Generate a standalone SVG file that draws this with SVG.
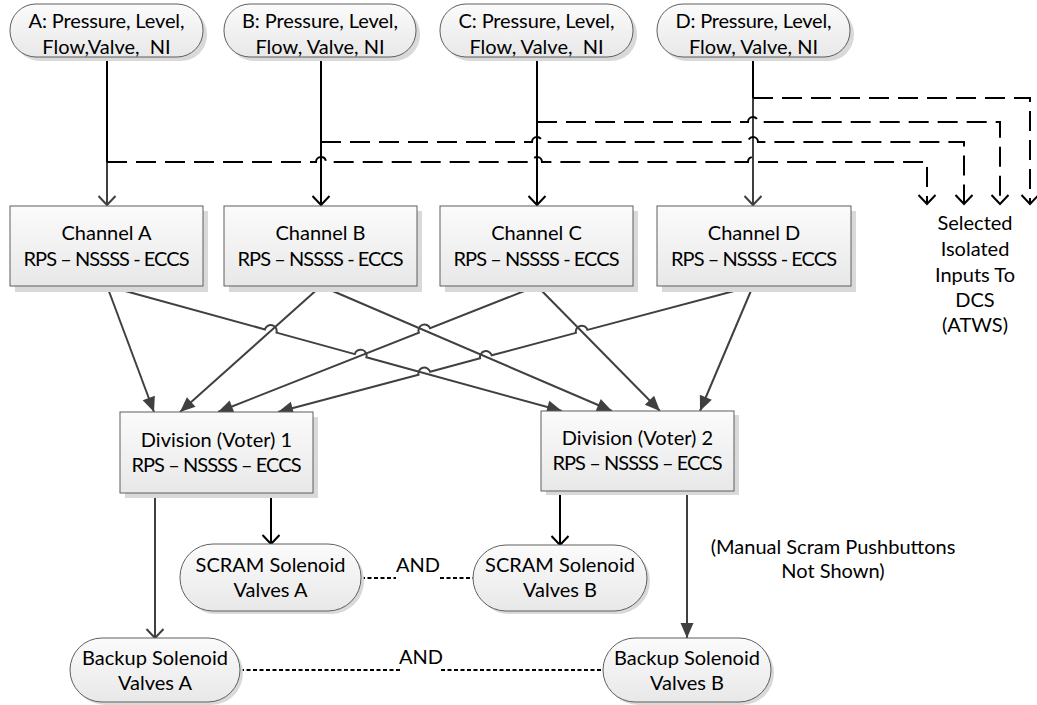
<svg xmlns="http://www.w3.org/2000/svg" width="1037" height="705" viewBox="0 0 1037 705">
<defs>
<linearGradient id="gBox" x1="0" y1="0" x2="0" y2="1"><stop offset="0" stop-color="#fbfbfb"/><stop offset="1" stop-color="#e8e8e8"/></linearGradient>
<marker id="vBlack" markerUnits="userSpaceOnUse" overflow="visible" orient="auto" refX="0" refY="0" markerWidth="20" markerHeight="20"><path d="M-9,-8.5 L0,0 L-9,8.5" fill="none" stroke="#000" stroke-width="2" stroke-dasharray="none"/></marker>
<marker id="vGray" markerUnits="userSpaceOnUse" overflow="visible" orient="auto" refX="0" refY="0" markerWidth="20" markerHeight="20"><path d="M-9,-8.5 L0,0 L-9,8.5" fill="none" stroke="#404040" stroke-width="2"/></marker>
<marker id="tri" markerUnits="userSpaceOnUse" overflow="visible" orient="auto" refX="0" refY="0" markerWidth="20" markerHeight="20"><path d="M0,0 L-15,-6.5 L-15,6.5 Z" fill="#404040"/></marker>
</defs>
<style>
.box{fill:url(#gBox);stroke:#5f5f5f;stroke-width:1}
.sh{fill:#d9d9d9}
.t{font-family:Lato,"Liberation Sans",sans-serif;font-size:20px;fill:#000;text-anchor:middle}
.solid{fill:none;stroke:#000;stroke-width:2}
.gray{fill:none;stroke:#404040;stroke-width:2}
.dash{fill:none;stroke:#000;stroke-width:2;stroke-dasharray:20 9}
.dot{fill:none;stroke:#000;stroke-width:2;stroke-dasharray:4 2.5}
</style>

<g id="connectors">
<path class="solid" d="M107,57 V162"/>
<path class="gray" d="M107,162 V205" marker-end="url(#vGray)"/>
<path class="solid" d="M321,57 V205" marker-end="url(#vBlack)"/>
<path class="solid" d="M537,57 V205" marker-end="url(#vBlack)"/>
<path class="solid" d="M753,57 V98"/>
<path class="gray" d="M753,98 V205" marker-end="url(#vGray)"/>

<path class="dash" d="M107,162 H316 A5,5 0 0 1 326,162 H532 A5,5 0 0 1 542,162 H748 A5,5 0 0 1 758,162 H927 V204" marker-end="url(#vBlack)"/>
<path class="dash" d="M321,142 H532 A5,5 0 0 1 542,142 H748 A5,5 0 0 1 758,142 H964 V204" marker-end="url(#vBlack)"/>
<path class="dash" d="M537,122 H748 A5,5 0 0 1 758,122 H1000 V204" marker-end="url(#vBlack)"/>
<path class="dash" d="M753,98 H1030 V204" marker-end="url(#vBlack)"/>

<path class="gray" d="M107,286 L154,412" marker-end="url(#tri)"/>
<path class="gray" d="M107,286 L264.9,329.4 A6,6 0 0 1 276.5,332.6 L354.8,354.1 A6,6 0 0 1 366.4,357.3 L562,411" marker-end="url(#tri)"/>
<path class="gray" d="M321,286 L180,412" marker-end="url(#tri)"/>
<path class="gray" d="M321,286 L612,411" marker-end="url(#tri)"/>
<path class="gray" d="M537,286 L430.1,328.3 A6,6 0 0 0 418.9,332.7 L218,412" marker-end="url(#tri)"/>
<path class="gray" d="M537,286 L660,411" marker-end="url(#tri)"/>
<path class="gray" d="M753,286 L587.5,329.9 A6,6 0 0 0 575.9,332.9 L491.7,355.3 A6,6 0 0 0 480.1,358.3 L430.1,371.7 A6,6 0 0 0 418.5,374.7 L278,412" marker-end="url(#tri)"/>
<path class="gray" d="M753,286 L700,411" marker-end="url(#tri)"/>

<path class="solid" d="M271,494 V544" marker-end="url(#vBlack)"/>
<path class="gray" d="M155,494 V638" marker-end="url(#vGray)"/>
<path class="solid" d="M560,491 V545" marker-end="url(#vBlack)"/>
<path class="gray" d="M687,491 V638" marker-end="url(#tri)"/>

<path class="dot" d="M361,578 H396"/>
<path class="dot" d="M440,578 H473"/>
<path class="dot" d="M240,670 H401"/>
<path class="dot" d="M441,670 H603"/>
</g>

<g id="inA"><rect class="sh" x="14" y="8" width="193" height="53" rx="26"/><rect class="box" x="10" y="4" width="193" height="53" rx="26"/><text class="t" x="106.5" y="28" textLength="156" lengthAdjust="spacing">A: Pressure, Level,</text><text class="t" x="106.5" y="54" xml:space="preserve">Flow,Valve,  NI</text></g>
<g id="inB"><rect class="sh" x="228" y="8" width="192" height="53" rx="26"/><rect class="box" x="224" y="4" width="192" height="53" rx="26"/><text class="t" x="320" y="28" textLength="156" lengthAdjust="spacing">B: Pressure, Level,</text><text class="t" x="320" y="54">Flow, Valve, NI</text></g>
<g id="inC"><rect class="sh" x="444" y="8" width="193" height="53" rx="26"/><rect class="box" x="440" y="4" width="193" height="53" rx="26"/><text class="t" x="536.5" y="28" textLength="156" lengthAdjust="spacing">C: Pressure, Level,</text><text class="t" x="536.5" y="54" xml:space="preserve">Flow, Valve,  NI</text></g>
<g id="inD"><rect class="sh" x="661" y="8" width="193" height="53" rx="26"/><rect class="box" x="657" y="4" width="193" height="53" rx="26"/><text class="t" x="753.5" y="28" textLength="156" lengthAdjust="spacing">D: Pressure, Level,</text><text class="t" x="753.5" y="54">Flow, Valve, NI</text></g>

<g id="chA"><rect class="sh" x="15" y="211" width="193" height="81"/><rect class="box" x="10" y="206" width="193" height="80"/><text class="t" x="106.5" y="240">Channel A</text><text class="t" x="106.5" y="266" textLength="166" lengthAdjust="spacing">RPS – NSSSS - ECCS</text></g>
<g id="chB"><rect class="sh" x="229" y="211" width="193" height="81"/><rect class="box" x="224" y="206" width="193" height="80"/><text class="t" x="320.5" y="240">Channel B</text><text class="t" x="320.5" y="266" textLength="166" lengthAdjust="spacing">RPS – NSSSS - ECCS</text></g>
<g id="chC"><rect class="sh" x="445" y="211" width="193" height="81"/><rect class="box" x="440" y="206" width="193" height="80"/><text class="t" x="536.5" y="240">Channel C</text><text class="t" x="536.5" y="266" textLength="166" lengthAdjust="spacing">RPS – NSSSS - ECCS</text></g>
<g id="chD"><rect class="sh" x="662" y="211" width="194" height="81"/><rect class="box" x="657" y="206" width="194" height="80"/><text class="t" x="754" y="240">Channel D</text><text class="t" x="754" y="266" textLength="166" lengthAdjust="spacing">RPS – NSSSS - ECCS</text></g>

<g id="dcs"><text class="t" x="975" y="230">Selected</text><text class="t" x="975" y="256">Isolated</text><text class="t" x="975" y="282">Inputs To</text><text class="t" x="975" y="307">DCS</text><text class="t" x="975" y="332">(ATWS)</text></g>

<g id="div1"><rect class="sh" x="125" y="417" width="193" height="81"/><rect class="box" x="120" y="412" width="193" height="81"/><text class="t" x="216.5" y="447">Division (Voter) 1</text><text class="t" x="216.5" y="472" textLength="170" lengthAdjust="spacing">RPS – NSSSS – ECCS</text></g>
<g id="div2"><rect class="sh" x="546" y="415" width="193" height="80"/><rect class="box" x="541" y="411" width="193" height="80"/><text class="t" x="637.5" y="445">Division (Voter) 2</text><text class="t" x="637.5" y="470" textLength="170" lengthAdjust="spacing">RPS – NSSSS – ECCS</text></g>

<g id="scramA"><rect class="sh" x="183" y="547" width="181" height="67" rx="33"/><rect class="box" x="180" y="544" width="181" height="67" rx="33"/><text class="t" x="270.5" y="572">SCRAM Solenoid</text><text class="t" x="270.5" y="597">Valves A</text></g>
<g id="scramB"><rect class="sh" x="476" y="548" width="174" height="66" rx="33"/><rect class="box" x="473" y="545" width="174" height="66" rx="33"/><text class="t" x="560" y="572">SCRAM Solenoid</text><text class="t" x="560" y="597">Valves B</text></g>
<g id="backA"><rect class="sh" x="73" y="641" width="170" height="64" rx="32"/><rect class="box" x="70" y="638" width="170" height="64" rx="32"/><text class="t" x="155" y="665">Backup Solenoid</text><text class="t" x="155" y="690">Valves A</text></g>
<g id="backB"><rect class="sh" x="606" y="641" width="168" height="64" rx="32"/><rect class="box" x="603" y="638" width="168" height="64" rx="32"/><text class="t" x="687" y="665">Backup Solenoid</text><text class="t" x="687" y="690">Valves B</text></g>

<g id="labels"><text class="t" x="418" y="572">AND</text><text class="t" x="421" y="664">AND</text><text class="t" x="833" y="554">(Manual Scram Pushbuttons</text><text class="t" x="833" y="578">Not Shown)</text></g>
</svg>
